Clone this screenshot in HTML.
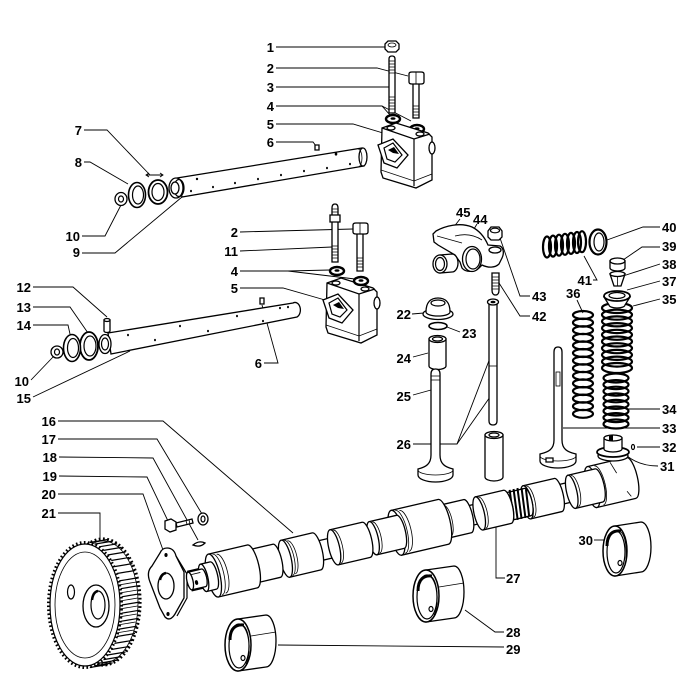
<!DOCTYPE html>
<html><head><meta charset="utf-8"><style>
html,body{margin:0;padding:0;background:#fff;}
svg{display:block;}
text{font-family:"Liberation Sans",sans-serif;font-weight:bold;font-size:13px;fill:#000;}
.l{stroke:#000;stroke-width:0.9;fill:none;}
.s{stroke:#000;stroke-width:1.3;fill:#fff;}
.n{stroke:#000;stroke-width:1.2;fill:none;}
.t{stroke:#000;stroke-width:0.8;fill:none;}
.sp{stroke:#000;stroke-width:2.2;fill:none;}
.d{fill:#000;stroke:none;}
</style></head><body>
<svg width="700" height="694" viewBox="0 0 700 694" xmlns="http://www.w3.org/2000/svg">
<rect width="700" height="694" fill="#fff"/>

<!-- leader lines -->
<polyline class="l" points="276,47 385,47"/>
<polyline class="l" points="276,68 377,68 408,76"/>
<polyline class="l" points="276,87 389,87"/>
<polyline class="l" points="276,106 382,106 390,115"/>
<polyline class="l" points="382,106 411,121"/>
<polyline class="l" points="276,124 353,124 383,133"/>
<polyline class="l" points="276,142 313,142 316,146"/>
<polyline class="l" points="84,130 107,130 150,175"/>
<polyline class="l" points="84,162 90,162 128,184"/>
<polyline class="l" points="82,236 105,236 121,205"/>
<polyline class="l" points="82,253 115,253 182,197"/>
<polyline class="l" points="240,232 353,229"/>
<polyline class="l" points="240,251 332,247"/>
<polyline class="l" points="240,271 288,271 330,270"/>
<polyline class="l" points="288,271 355,279"/>
<polyline class="l" points="240,288 283,288 325,300"/>
<polyline class="l" points="264,363 278,363 262,305"/>
<polyline class="l" points="33,287 73,287 107,317"/>
<polyline class="l" points="33,307 70,307 88,333"/>
<polyline class="l" points="33,325 68,325 70,334"/>
<polyline class="l" points="31,380 53,357"/>
<polyline class="l" points="33,397 130,351"/>
<polyline class="l" points="58,421 163,421 293,533"/>
<polyline class="l" points="58,439 157,439 202,514"/>
<polyline class="l" points="59,457 153,458 198,540"/>
<polyline class="l" points="59,476 147,477 168,521"/>
<polyline class="l" points="58,494 143,494 163,550"/>
<polyline class="l" points="58,513 100,513 100,545"/>
<polyline class="l" points="412,314 424,313"/>
<polyline class="l" points="447,327 460,332"/>
<polyline class="l" points="413,357 428,353"/>
<polyline class="l" points="413,395 431,390"/>
<polyline class="l" points="413,444 457,444 490,358"/>
<polyline class="l" points="457,444 490,397"/>
<polyline class="l" points="505,578 496,578 496,500"/>
<polyline class="l" points="465,610 495,632 504,632"/>
<polyline class="l" points="278,645 504,647"/>
<polyline class="l" points="594,540 605,540"/>
<path class="l" d="M627,456 Q640,466 658,466"/>
<polyline class="l" points="637,447 660,447"/>
<polyline class="l" points="563,428 660,428"/>
<polyline class="l" points="627,409 660,409"/>
<polyline class="l" points="633,306 660,299"/>
<polyline class="l" points="577,300 583,313"/>
<polyline class="l" points="627,290 660,281"/>
<polyline class="l" points="623,276 660,264"/>
<polyline class="l" points="623,260 642,247 660,247"/>
<polyline class="l" points="607,240 643,227 660,227"/>
<polyline class="l" points="593,280 597,280 584,256"/>
<polyline class="l" points="499,283 520,316 530,316"/>
<polyline class="l" points="500,238 520,296 530,296"/>
<polyline class="l" points="477,224 460,252"/>
<polyline class="l" points="460,219 453,228"/>
<!-- dimension mark near 7 -->
<line class="l" x1="146" y1="175" x2="163" y2="175"/>
<path class="l" d="M149,173 L146,175 L149,177 M160,173 L163,175 L160,177"/>

<!-- labels -->
<g>
<text x="274" y="52" text-anchor="end">1</text>
<text x="274" y="73" text-anchor="end">2</text>
<text x="274" y="92" text-anchor="end">3</text>
<text x="274" y="111" text-anchor="end">4</text>
<text x="274" y="129" text-anchor="end">5</text>
<text x="274" y="147" text-anchor="end">6</text>
<text x="82" y="135" text-anchor="end">7</text>
<text x="82" y="167" text-anchor="end">8</text>
<text x="80" y="241" text-anchor="end">10</text>
<text x="80" y="257" text-anchor="end">9</text>
<text x="238" y="237" text-anchor="end">2</text>
<text x="238" y="256" text-anchor="end">11</text>
<text x="238" y="276" text-anchor="end">4</text>
<text x="238" y="293" text-anchor="end">5</text>
<text x="262" y="368" text-anchor="end">6</text>
<text x="31" y="292" text-anchor="end">12</text>
<text x="31" y="312" text-anchor="end">13</text>
<text x="31" y="330" text-anchor="end">14</text>
<text x="29" y="386" text-anchor="end">10</text>
<text x="31" y="403" text-anchor="end">15</text>
<text x="56" y="426" text-anchor="end">16</text>
<text x="56" y="444" text-anchor="end">17</text>
<text x="57" y="462" text-anchor="end">18</text>
<text x="57" y="481" text-anchor="end">19</text>
<text x="56" y="499" text-anchor="end">20</text>
<text x="56" y="518" text-anchor="end">21</text>
<text x="411" y="319" text-anchor="end">22</text>
<text x="462" y="338">23</text>
<text x="411" y="363" text-anchor="end">24</text>
<text x="411" y="401" text-anchor="end">25</text>
<text x="411" y="449" text-anchor="end">26</text>
<text x="506" y="583">27</text>
<text x="506" y="637">28</text>
<text x="506" y="654">29</text>
<text x="593" y="545" text-anchor="end">30</text>
<text x="660" y="471">31</text>
<text x="662" y="452">32</text>
<text x="662" y="433">33</text>
<text x="662" y="414">34</text>
<text x="662" y="304">35</text>
<text x="566" y="298">36</text>
<text x="662" y="286">37</text>
<text x="662" y="269">38</text>
<text x="662" y="251">39</text>
<text x="662" y="232">40</text>
<text x="592" y="285" text-anchor="end">41</text>
<text x="532" y="321">42</text>
<text x="532" y="301">43</text>
<text x="473" y="224">44</text>
<text x="456" y="217">45</text>
</g>

<!-- ===== upper rocker support ===== -->
<path class="s" d="M389,59 Q389,56 392,56 Q395,56 395,59 L395,113 L389,113 Z"/>
<path class="t" d="M389,61 L395,61 M389,64 L395,64 M389,67 L395,67 M389,70 L395,70 M389,73 L395,73 M389,97 L395,97 M389,100 L395,100 M389,103 L395,103 M389,106 L395,106 M389,109 L395,109"/>
<polygon class="s" points="385,44 388,41 396,41 399,44 399,49 396,52 388,52 385,49"/>
<ellipse class="t" cx="392" cy="45" rx="4" ry="2"/>
<path class="s" d="M413,83 L419,83 L419,118 L413,118 Z"/>
<path class="t" d="M413,106 L419,106 M413,109 L419,109 M413,112 L419,112 M413,115 L419,115"/>
<path class="s" d="M409,74 Q409,72 412,72 L421,72 Q424,72 424,74 L424,82 Q424,84 421,84 L412,84 Q409,84 409,82 Z"/>
<line class="t" x1="416" y1="72" x2="416" y2="84"/>
<ellipse cx="393" cy="119" rx="7" ry="4" fill="#fff" stroke="#000" stroke-width="2.4"/>
<ellipse class="d" cx="393" cy="118.5" rx="2.5" ry="1.3"/>
<ellipse cx="417" cy="129" rx="7" ry="4" fill="#fff" stroke="#000" stroke-width="2.4"/>
<ellipse class="d" cx="417" cy="128.5" rx="2.5" ry="1.3"/>

<g>
<polygon class="s" points="382,128 396,123 428,133 432,137 432,180 416,188 383,178 381,172"/>
<polyline class="n" points="382,128 414,139 430,134"/>
<line class="n" x1="414" y1="139" x2="414" y2="186"/>
<polyline class="t" points="381,170 414,181 432,174"/>
<ellipse class="s" cx="391" cy="128" rx="4" ry="2"/>
<ellipse class="s" cx="420" cy="134" rx="4" ry="2"/>
<ellipse class="s" cx="432" cy="148" rx="3" ry="6"/>
<polygon class="s" points="378,145 393,139 408,155 397,168 384,163"/>
<polygon class="n" points="384,148 393,143 402,155 395,162 387,159"/>
<path class="d" d="M388,150 L394,147 L399,154 L393,153 Z"/>
</g>
<g transform="translate(-55,155)">
<polygon class="s" points="382,128 396,123 428,133 432,137 432,180 416,188 383,178 381,172"/>
<polyline class="n" points="382,128 414,139 430,134"/>
<line class="n" x1="414" y1="139" x2="414" y2="186"/>
<polyline class="t" points="381,170 414,181 432,174"/>
<ellipse class="s" cx="391" cy="128" rx="4" ry="2"/>
<ellipse class="s" cx="420" cy="134" rx="4" ry="2"/>
<ellipse class="s" cx="432" cy="148" rx="3" ry="6"/>
<polygon class="s" points="378,145 393,139 408,155 397,168 384,163"/>
<polygon class="n" points="384,148 393,143 402,155 395,162 387,159"/>
<path class="d" d="M388,150 L394,147 L399,154 L393,153 Z"/>
</g>

<path class="s" d="M332,208 Q332,204 335,204 Q338,204 338,208 L338,262 L332,262 Z"/>
<path class="s" d="M330,215 L340,215 L340,222 L330,222 Z"/>
<path class="t" d="M332,209 L338,209 M332,212 L338,212 M332,246 L338,246 M332,249 L338,249 M332,252 L338,252 M332,255 L338,255 M332,258 L338,258"/>
<path class="s" d="M357,233 L363,233 L363,271 L357,271 Z"/>
<path class="t" d="M357,258 L363,258 M357,261 L363,261 M357,264 L363,264 M357,267 L363,267"/>
<path class="s" d="M353,225 Q353,223 356,223 L365,223 Q368,223 368,225 L368,232 Q368,234 365,234 L356,234 Q353,234 353,232 Z"/>
<line class="t" x1="360" y1="223" x2="360" y2="234"/>
<ellipse cx="337" cy="271" rx="7" ry="4" fill="#fff" stroke="#000" stroke-width="2.4"/>
<ellipse class="d" cx="337" cy="270.5" rx="2.5" ry="1.3"/>
<ellipse cx="361" cy="281" rx="7" ry="4" fill="#fff" stroke="#000" stroke-width="2.4"/>
<ellipse class="d" cx="361" cy="280.5" rx="2.5" ry="1.3"/>

<!-- upper shaft 9 -->
<polygon class="s" points="177,178 362,148 364,166 182,197"/>
<ellipse class="s" cx="363" cy="157" rx="4" ry="9"/>
<path class="t" d="M358,149 A4,9 0 0 1 358,167"/>
<ellipse class="s" cx="176" cy="188" rx="7" ry="10"/>
<ellipse class="n" cx="179" cy="188" rx="5" ry="8.5"/>
<ellipse class="s" cx="175" cy="188" rx="4" ry="6"/>
<g class="d">
<ellipse cx="191" cy="191" rx="1" ry="1.3"/><ellipse cx="213" cy="187" rx="1" ry="1.3"/>
<ellipse cx="235" cy="183" rx="1" ry="1.3"/><ellipse cx="258" cy="179" rx="1" ry="1.3"/>
<ellipse cx="281" cy="175" rx="1" ry="1.3"/><ellipse cx="304" cy="171" rx="1" ry="1.3"/>
<ellipse cx="327" cy="168" rx="1" ry="1.3"/><ellipse cx="350" cy="164" rx="1" ry="1.3"/>
<ellipse cx="336" cy="154" rx="1.3" ry="1.6"/><ellipse cx="197" cy="179" rx="1.2" ry="1.2"/>
</g>
<path class="s" d="M315,145 L319,145 L319,150 L315,150 Z"/>
<ellipse cx="158" cy="192" rx="9.5" ry="12" fill="#fff" stroke="#000" stroke-width="1.8"/>
<ellipse class="n" cx="158" cy="192" rx="6" ry="8.5"/>
<ellipse cx="137" cy="195" rx="8.5" ry="12.5" fill="#fff" stroke="#000" stroke-width="1.6"/>
<ellipse class="n" cx="138" cy="195" rx="5.5" ry="9"/>
<ellipse class="s" cx="121" cy="199" rx="6" ry="6.5"/>
<ellipse class="n" cx="121" cy="199" rx="2.5" ry="3"/>

<!-- lower shaft 15 -->
<path class="s" d="M108,333 L293,303 A5,7 0 0 1 297,317 L111,354 Z"/>
<g class="d">
<ellipse cx="128" cy="335" rx="1" ry="1.3"/><ellipse cx="155" cy="340" rx="1" ry="1.3"/>
<ellipse cx="180" cy="326" rx="1" ry="1.3"/><ellipse cx="208" cy="331" rx="1" ry="1.3"/>
<ellipse cx="237" cy="316" rx="1" ry="1.3"/><ellipse cx="263" cy="321" rx="1" ry="1.3"/>
<ellipse cx="280" cy="308" rx="1" ry="1.3"/><ellipse cx="288" cy="307" rx="1" ry="1.3"/>
</g>
<ellipse class="s" cx="105" cy="344" rx="6" ry="9.5"/>
<ellipse class="n" cx="105" cy="344" rx="3.5" ry="6"/>
<path class="s" d="M104,320 L110,320 L110,331 A3,1.5 0 0 1 104,331 Z"/>
<ellipse class="s" cx="107" cy="320" rx="3" ry="1.5"/>
<path class="s" d="M260,298 L264,298 L264,304 L260,304 Z"/>
<ellipse cx="89" cy="346" rx="9" ry="14" fill="#fff" stroke="#000" stroke-width="1.8"/>
<ellipse class="n" cx="90" cy="346" rx="6" ry="10"/>
<ellipse cx="72" cy="348" rx="8.5" ry="13.5" fill="#fff" stroke="#000" stroke-width="1.6"/>
<ellipse class="n" cx="73" cy="348" rx="5.5" ry="9.5"/>
<ellipse class="s" cx="57" cy="352" rx="6" ry="6"/>
<ellipse class="n" cx="57" cy="352" rx="2.5" ry="3"/>

<!-- ===== gear 21 ===== -->
<path d="M85,542 L103,539 A37,63 0 0 1 103,665 L85,668 Z" fill="#fff"/>
<ellipse cx="103" cy="602" rx="37" ry="63" fill="none" stroke="#000" stroke-width="3.2" stroke-dasharray="1.8 2.4"/>
<ellipse class="t" cx="103" cy="602" rx="35" ry="61"/>
<path stroke="#000" stroke-width="1.2" fill="none" d="M89.8,542.5L107.8,539.5M94.6,544.1L112.6,541.1M99.2,546.8L117.2,543.8M103.5,550.4L121.5,547.4M107.5,555L125.5,552M111.2,560.5L129.2,557.5M114.4,566.6L132.4,563.6M117,573.5L135,570.5M119.2,580.9L137.2,577.9M120.7,588.7L138.7,585.7M121.7,596.8L139.7,593.8M122,605L140,602M121.7,613.2L139.7,610.2M120.7,621.3L138.7,618.3M119.2,629.1L137.2,626.1M117,636.5L135,633.5M114.4,643.4L132.4,640.4M111.2,649.5L129.2,646.5M107.5,655L125.5,652M103.5,659.6L121.5,656.6M99.2,663.2L117.2,660.2M94.6,665.9L112.6,662.9M89.8,667.5L107.8,664.5"/>
<path stroke="#000" stroke-width="0.8" fill="none" d="M118.5,585L136.5,582M119.5,593L137.5,590M119.8,601L137.8,598M119.5,609L137.5,606M118.8,617L136.8,614M117.5,625L135.5,622M116,633L134,630"/>
<ellipse cx="85" cy="605" rx="36.5" ry="62.5" fill="none" stroke="#000" stroke-width="3" stroke-dasharray="1.6 2.4"/>
<ellipse cx="85" cy="605" rx="35" ry="61" fill="#fff" stroke="#000" stroke-width="1.2"/>
<ellipse class="t" cx="85" cy="605" rx="30" ry="53"/>
<ellipse class="s" cx="96" cy="606" rx="13" ry="21"/>
<ellipse class="n" cx="98" cy="605" rx="7" ry="14"/>
<path d="M92,600 Q93,592 98,591" stroke="#000" stroke-width="2.5" fill="none"/>
<ellipse class="n" cx="71" cy="592" rx="3.5" ry="7"/>

<!-- flange 20 -->
<path class="n" d="M176,556 L187,574 L187,598 L177,616"/>
<path class="s" d="M167,548 Q174,548 176,556 L184,572 L184,598 L175,614 Q170,622 165,617 L160,608 L150,582 Q146,572 152,566 L160,553 Q162,548 167,548 Z"/>
<ellipse class="s" cx="166" cy="586" rx="8" ry="13"/>
<path d="M160,580 Q161,574 166,573" stroke="#000" stroke-width="2.5" fill="none"/>
<ellipse class="d" cx="166" cy="555" rx="1.6" ry="2"/>
<ellipse class="d" cx="168" cy="614" rx="1.6" ry="2"/>
<polygon class="s" points="176,523 192,519 193,523 177,527"/>
<path class="t" d="M186,520.5 L187,524.5 M189,520 L190,524"/>
<polygon class="s" points="165,521 171,519 176,522 176,530 170,532 165,529"/>
<ellipse class="s" cx="203" cy="519" rx="5" ry="6" stroke-width="1.6"/>
<ellipse class="n" cx="203" cy="519" rx="2" ry="3"/>
<path class="s" d="M193,545 Q199,540 205,543 Q200,548 193,545 Z"/>

<!-- ===== camshaft ===== -->
<g transform="translate(190,581) rotate(-13.15)" stroke="#000" stroke-width="1.3" fill="#fff">
<rect x="0" y="-10" width="450" height="20"/>
<path d="M413,-21 L453,-21 A6.3,21 0 0 1 453,21 L413,21 Z"/>
<ellipse cx="413" cy="0" rx="6.3" ry="21"/>
<ellipse cx="413" cy="0" rx="4" ry="14" fill="none" stroke-width="0.8"/>
<path fill="none" stroke-width="0.8" d="M420,-20 A6.3,20 0 0 1 420,20 M436,-20 L440,-8 M446,12 L449,18"/>
<path d="M392,-17 L420,-17 A5.1,17 0 0 1 420,17 L392,17 Z"/>
<ellipse cx="392" cy="0" rx="5.1" ry="17"/>
<path fill="none" stroke-width="0.8" d="M395,-16 A5.1,16 0 0 1 395,16"/>
<path d="M346,-17 L378,-17 A5.1,17 0 0 1 378,17 L346,17 Z"/>
<ellipse cx="346" cy="0" rx="5.1" ry="17"/>
<path fill="none" stroke-width="0.8" d="M349,-16 A5.1,16 0 0 1 349,16"/>
<path d="M327,-14 L347,-14 A4.2,14 0 0 1 347,14 L327,14 Z"/>
<ellipse cx="327" cy="0" rx="4.2" ry="14"/>
<path fill="none" stroke-width="2" d="M332,-16 L329,14 M336,-16 L333,15 M340,-16 L337,15 M344,-15 L341,15 M348,-13 L345,14"/>
<path d="M297,-17 L326,-17 A5.1,17 0 0 1 326,17 L297,17 Z"/>
<ellipse cx="297" cy="0" rx="5.1" ry="17"/>
<path fill="none" stroke-width="0.8" d="M300,-16 A5.1,16 0 0 1 300,16"/>
<path d="M261,-17 L285,-17 A5.1,17 0 0 1 285,17 L261,17 Z"/>
<ellipse cx="261" cy="0" rx="5.1" ry="17"/>
<path fill="none" stroke-width="0.8" d="M264,-16 A5.1,16 0 0 1 264,16"/>
<path d="M212,-23 L260,-23 A6.9,23 0 0 1 260,23 L212,23 Z"/>
<ellipse cx="212" cy="0" rx="6.9" ry="23"/>
<path fill="none" stroke-width="0.8" d="M216,-22 A6.9,22 0 0 1 216,22 M220,-21 A6.9,21 0 0 1 220,21"/>
<path d="M188,-17 L216,-17 A5.1,17 0 0 1 216,17 L188,17 Z"/>
<ellipse cx="188" cy="0" rx="5.1" ry="17"/>
<path fill="none" stroke-width="0.8" d="M191,-16 A5.1,16 0 0 1 191,16"/>
<path d="M148,-18 L181,-18 A5.4,18 0 0 1 181,18 L148,18 Z"/>
<ellipse cx="148" cy="0" rx="5.4" ry="18"/>
<path fill="none" stroke-width="0.8" d="M151,-17 A5.4,17 0 0 1 151,17"/>
<path d="M98,-19 L130,-19 A5.7,19 0 0 1 130,19 L98,19 Z"/>
<ellipse cx="98" cy="0" rx="5.7" ry="19"/>
<path fill="none" stroke-width="0.8" d="M101,-18 A5.7,18 0 0 1 101,18 M104,-17 A5.7,17 0 0 1 104,17"/>
<path d="M62,-17 L89,-17 A5.1,17 0 0 1 89,17 L62,17 Z"/>
<ellipse cx="62" cy="0" rx="5.1" ry="17"/>
<path fill="none" stroke-width="0.8" d="M65,-16 A5.1,16 0 0 1 65,16"/>
<path d="M24,-22 L64,-22 A6.6,22 0 0 1 64,22 L24,22 Z"/>
<ellipse cx="24" cy="0" rx="6.6" ry="22"/>
<path fill="none" stroke-width="0.8" d="M28,-21 A6.6,21 0 0 1 28,21 M32,-20 A6.6,20 0 0 1 32,20"/>
<path d="M14,-14 L24,-14 A4.2,14 0 0 1 24,14 L14,14 Z"/>
<ellipse cx="14" cy="0" rx="4.2" ry="14"/>
<path d="M0,-9 L14,-9 A3,9 0 0 1 14,9 L0,9 Z"/>
<ellipse cx="0" cy="0" rx="3" ry="9"/>
<ellipse cx="6" cy="3" rx="1.6" ry="2.4" fill="#000" stroke="none"/>
<path fill="none" stroke-width="0.8" d="M2,-6 L12,-6"/>
</g>

<!-- ===== bushings ===== -->
<g>
<path class="s" d="M238,619 L266,615 A10,26 0 0 1 266,667 L238,671 Z"/>
<ellipse cx="238" cy="645" rx="13" ry="26" fill="#fff" stroke="#000" stroke-width="1.5"/>
<ellipse class="n" cx="239" cy="646" rx="10" ry="22"/>
<path d="M230,640 C230,628 236,624 244,625" stroke="#000" stroke-width="3" fill="none"/>
<path class="t" d="M244,626 C250,632 251,655 246,664"/>
<path class="t" d="M251,636 L276,632"/>
<ellipse class="n" cx="243" cy="658" rx="2" ry="2.5"/>
</g>
<g transform="translate(188,-49)">
<path class="s" d="M238,619 L266,615 A10,26 0 0 1 266,667 L238,671 Z"/>
<ellipse cx="238" cy="645" rx="13" ry="26" fill="#fff" stroke="#000" stroke-width="1.5"/>
<ellipse class="n" cx="239" cy="646" rx="10" ry="22"/>
<path d="M230,640 C230,628 236,624 244,625" stroke="#000" stroke-width="3" fill="none"/>
<path class="t" d="M244,626 C250,632 251,655 246,664"/>
<path class="t" d="M251,636 L276,632"/>
<ellipse class="n" cx="243" cy="658" rx="2" ry="2.5"/>
</g>
<g transform="translate(377,-93)">
<path class="s" d="M238,619 L264,615 A10,25 0 0 1 264,665 L238,669 Z"/>
<ellipse cx="238" cy="644" rx="12" ry="25" fill="#fff" stroke="#000" stroke-width="1.5"/>
<ellipse class="n" cx="239" cy="645" rx="9" ry="21"/>
<path d="M230,639 C230,627 236,623 244,624" stroke="#000" stroke-width="3" fill="none"/>
<path class="t" d="M244,625 C250,631 251,654 246,663"/>
<ellipse class="n" cx="243" cy="656" rx="2" ry="2.5"/>
</g>

<!-- ===== valve train ===== -->
<ellipse class="s" cx="438" cy="314" rx="15" ry="5.5"/>
<path class="s" d="M426,312 C426,302 431,298 438,298 C445,298 450,302 450,312 A12,4 0 0 1 426,312 Z"/>
<ellipse class="n" cx="438" cy="303" rx="7" ry="3"/>
<ellipse cx="438" cy="326" rx="9" ry="3.5" fill="none" stroke="#000" stroke-width="1.6"/>
<path class="s" d="M429,339 L429,366 A8.5,3.5 0 0 0 446,366 L446,339 Z"/>
<ellipse class="s" cx="437.5" cy="339" rx="8.5" ry="3.5"/>
<ellipse class="n" cx="437.5" cy="339" rx="5" ry="2"/>
<path class="s" d="M431,374 Q431,369 435.5,369 Q440,369 440,374 L440,455 C440,464 445,467 453,469 L453,475 A17.5,7 0 0 1 418,475 L418,469 C426,467 431,464 431,455 Z"/>
<path class="t" d="M431,376 L440,376 M431,380 L440,380 M418,470 A17.5,5 0 0 0 453,470"/>
<path class="s" d="M489,303 L497,303 L497,421 Q497,425 493,425 Q489,425 489,421 Z"/>
<ellipse class="s" cx="493" cy="302" rx="5.5" ry="3"/>
<ellipse class="d" cx="493" cy="302" rx="2.5" ry="1.3"/>
<line class="t" x1="489" y1="366" x2="497" y2="366"/>
<path class="s" d="M485,435 L485,477 A9,4 0 0 0 503,477 L503,435 Z"/>
<ellipse class="s" cx="494" cy="435" rx="9" ry="3.5"/>
<ellipse class="n" cx="494" cy="435" rx="5" ry="2"/>
<path class="s" d="M554,352 Q554,347 558,347 Q562,347 562,352 L562,440 C562,449 567,452 576,454 L576,461 A18,7 0 0 1 540,461 L540,454 C549,452 554,449 554,440 Z"/>
<rect class="t" x="556" y="372" width="4" height="14"/>
<path class="t" d="M540,456 A18,5 0 0 0 576,456"/>
<path class="s" d="M546,458 L553,458 L553,462 L546,462 Z"/>

<path class="s" d="M433,234 L436,231 C445,226 460,222 472,227 C480,231 485,238 488,245 L500,246 C504,248 504,254 502,258 L499,264 C495,268 488,268 482,265 L479,268 C475,272 466,273 462,268 L460,262 L455,255 L438,245 L434,242 Z"/>
<path class="t" d="M437,236 L462,243 M455,236 Q470,232 482,240"/>
<ellipse class="s" cx="472" cy="259" rx="9.5" ry="12.5"/>
<ellipse class="n" cx="473" cy="259" rx="7" ry="10"/>
<ellipse class="s" cx="495" cy="250" rx="6" ry="3"/>
<path class="s" d="M440,255 L452,254 A6,9 0 0 1 452,272 L440,273 Z"/>
<ellipse class="s" cx="440" cy="264" rx="7" ry="9"/>
<ellipse class="n" cx="440" cy="264" rx="4.5" ry="6.5"/>
<polygon class="s" points="488,231 491,227 499,227 502,231 502,237 499,240 491,240 488,237"/>
<ellipse class="n" cx="495" cy="230.5" rx="4.5" ry="2.3"/>
<path class="s" d="M492,273 L499,273 L499,290 Q499,295 495.5,295 Q492,295 492,290 Z"/>
<path class="t" d="M492,277 L499,277 M492,280 L499,280 M492,283 L499,283 M492,286 L499,286 M492,289 L499,289"/>

<g class="sp">
<ellipse cx="547" cy="247" rx="4" ry="10.5"/><ellipse cx="553" cy="246.1" rx="4" ry="10.5"/>
<ellipse cx="559" cy="245.2" rx="4" ry="10.5"/><ellipse cx="565" cy="244.3" rx="4" ry="10.5"/>
<ellipse cx="571" cy="243.4" rx="4" ry="10.5"/><ellipse cx="577" cy="242.5" rx="4" ry="10.5"/>
<ellipse cx="582" cy="241.7" rx="4" ry="10.5"/>
</g>
<ellipse cx="598" cy="242" rx="8.5" ry="12.5" fill="#fff" stroke="#000" stroke-width="2.2"/>
<ellipse class="n" cx="599" cy="242" rx="5" ry="9"/>
<path class="s" d="M610,261 L610,268 A7.5,3 0 0 0 625,268 L625,261 Z"/>
<ellipse class="s" cx="617.5" cy="261" rx="7.5" ry="3"/>
<path class="s" d="M610,274 L625,274 L621,286 L614,286 Z"/>
<ellipse class="s" cx="617.5" cy="274" rx="7.5" ry="2.5"/>
<line class="t" x1="617.5" y1="276" x2="617.5" y2="286"/>
<g class="sp">
<ellipse cx="583" cy="315" rx="10" ry="4"/><ellipse cx="583" cy="322.6" rx="10" ry="4"/>
<ellipse cx="583" cy="330.2" rx="10" ry="4"/><ellipse cx="583" cy="337.8" rx="10" ry="4"/>
<ellipse cx="583" cy="345.4" rx="10" ry="4"/><ellipse cx="583" cy="353" rx="10" ry="4"/>
<ellipse cx="583" cy="360.6" rx="10" ry="4"/><ellipse cx="583" cy="368.2" rx="10" ry="4"/>
<ellipse cx="583" cy="375.8" rx="10" ry="4"/><ellipse cx="583" cy="383.4" rx="10" ry="4"/>
<ellipse cx="583" cy="391" rx="10" ry="4"/><ellipse cx="583" cy="398.6" rx="10" ry="4"/>
<ellipse cx="583" cy="406.2" rx="10" ry="4"/><ellipse cx="583" cy="413.8" rx="10" ry="4"/>
</g>
<g class="sp" stroke-width="2.3">
<ellipse cx="617" cy="308" rx="15" ry="5"/><ellipse cx="617" cy="314.7" rx="15" ry="5"/>
<ellipse cx="617" cy="321.4" rx="15" ry="5"/><ellipse cx="617" cy="328.1" rx="15" ry="5"/>
<ellipse cx="617" cy="334.8" rx="15" ry="5"/><ellipse cx="617" cy="341.5" rx="15" ry="5"/>
<ellipse cx="617" cy="348.2" rx="15" ry="5"/><ellipse cx="617" cy="354.9" rx="15" ry="5"/>
<ellipse cx="617" cy="361.6" rx="15" ry="5"/><ellipse cx="617" cy="368" rx="15" ry="5"/>
</g>
<g class="sp">
<ellipse cx="616" cy="378" rx="12.5" ry="4.5"/><ellipse cx="616" cy="384.6" rx="12.5" ry="4.5"/>
<ellipse cx="616" cy="391.2" rx="12.5" ry="4.5"/><ellipse cx="616" cy="397.8" rx="12.5" ry="4.5"/>
<ellipse cx="616" cy="404.4" rx="12.5" ry="4.5"/><ellipse cx="616" cy="411" rx="12.5" ry="4.5"/>
<ellipse cx="616" cy="417.6" rx="12.5" ry="4.5"/><ellipse cx="616" cy="424" rx="12.5" ry="4.5"/>
</g>
<path class="s" d="M604,297 L609,305 A8,3 0 0 0 625,305 L630,297 Z"/>
<ellipse cx="617" cy="296" rx="13" ry="5" fill="#fff" stroke="#000" stroke-width="1.8"/>
<ellipse class="n" cx="617" cy="295.5" rx="8" ry="3"/>

<ellipse class="s" cx="613" cy="456" rx="15" ry="5"/>
<ellipse cx="613" cy="452" rx="16" ry="5" fill="#fff" stroke="#000" stroke-width="1.8"/>
<path class="s" d="M604,438 L604,449 A9,3 0 0 0 622,449 L622,438 Z"/>
<ellipse class="s" cx="613" cy="438" rx="9" ry="3"/>
<path class="d" d="M609,436 L613,435 L613,441 L609,441 Z"/>
<ellipse class="n" cx="633" cy="447" rx="1.5" ry="2.5"/>

</svg>
</body></html>
